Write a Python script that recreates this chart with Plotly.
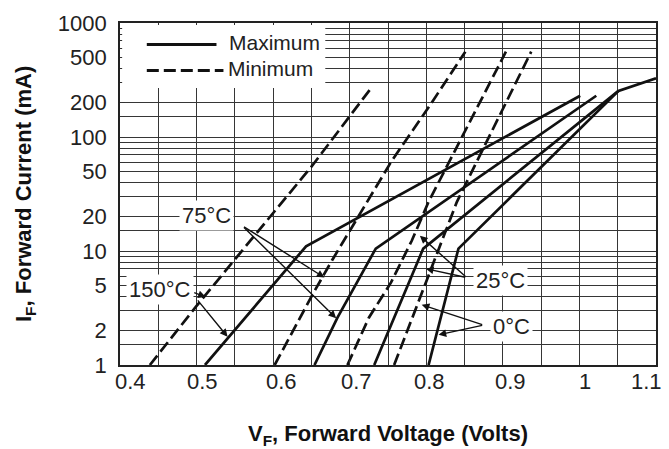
import numpy as np
import plotly.graph_objects as go

# Forward voltage (V) and forward current (mA) for each junction temperature
# Maximum curves
v_max_150 = [0.511, 0.643, 1.001]
i_max_150 = [1, 11, 230]
v_max_75 = [0.654, 0.684, 0.734, 1.022]
i_max_75 = [1, 2.6, 10.5, 230]
v_max_25 = [0.732, 0.796, 1.051]
i_max_25 = [1, 10.5, 254]
v_max_0 = [0.803, 0.842, 1.051, 1.1]
i_max_0 = [1, 10.5, 254, 327]

# Minimum curves
v_min_150 = [0.439, 0.5, 0.651, 0.728]
i_min_150 = [1, 3.3, 56, 269]
v_min_75 = [0.602, 0.621, 0.651, 0.677, 0.725, 0.755, 0.803, 0.851]
i_min_75 = [1, 1.73, 4.1, 8.3, 29, 62, 182, 560]
v_min_25 = [0.697, 0.725, 0.754, 0.781, 0.803, 0.904]
i_min_25 = [1, 2.6, 5.3, 12.3, 27, 560]
v_min_0 = [0.758, 0.84, 0.937]
i_min_0 = [1, 27, 560]

# Axis ticks
x_tick_values = [0.4, 0.5, 0.6, 0.7, 0.8, 0.9, 1.0, 1.1]
x_tick_text = ["0.4", "0.5", "0.6", "0.7", "0.8", "0.9", "1", "1.1"]
y_tick_values = [1, 2, 5, 10, 20, 50, 100, 200, 500, 1000]
y_tick_text = ["1", "2", "5", "10", "20", "50", "100", "200", "500", "1000"]
y_minor_values = [m * d for d in (1, 10, 100) for m in (1.5, 3, 4, 6, 7, 8, 9)]

FONT = "Liberation Sans, Arial, sans-serif"
INK = "#111111"
GRID = "#363636"
DASH = "12px,5px"

fig = go.Figure()

curves = [
    (v_max_150, i_max_150, "solid"), (v_max_75, i_max_75, "solid"),
    (v_max_25, i_max_25, "solid"), (v_max_0, i_max_0, "solid"),
    (v_min_150, i_min_150, DASH), (v_min_75, i_min_75, DASH),
    (v_min_25, i_min_25, DASH), (v_min_0, i_min_0, DASH),
]
for v, i, dash in curves:
    fig.add_trace(go.Scatter(
        x=v, y=i, mode="lines", showlegend=False, hoverinfo="skip",
        line=dict(color=INK, width=2.7, dash=dash),
    ))

axis_common = dict(
    showline=True, linecolor="#222222", linewidth=1.6, mirror="ticks",
    ticks="inside", ticklen=5, tickcolor="#333333", tickwidth=1.2,
    showgrid=True, gridcolor=GRID, gridwidth=1.4, zeroline=False,
    tickfont=dict(family=FONT, size=22, color="#222222"),
)

fig.update_xaxes(
    range=[0.4, 1.1], tickmode="linear", tick0=0.4, dtick=0.05,
    showticklabels=False, **axis_common,
)
fig.update_yaxes(
    type="log", range=[0, 3], tickmode="array",
    tickvals=y_tick_values, ticktext=y_tick_text, ticklabelstandoff=7,
    minor=dict(tickvals=y_minor_values, showgrid=True, gridcolor=GRID,
               gridwidth=1.4, ticks="inside", ticklen=5, tickcolor="#333333"),
    **axis_common,
)

annotations = []

# x tick labels, set slightly off their grid lines
x_label_nudge = [10, 6, 8, 7, 3, 8, 6, -10]
for val, txt, dx in zip(x_tick_values, x_tick_text, x_label_nudge):
    annotations.append(dict(
        x=val, y=0, xref="x", yref="paper", text=txt, showarrow=False,
        xanchor="center", yanchor="top", xshift=dx, yshift=-2,
        font=dict(family=FONT, size=22, color="#222222"),
    ))

# axis titles
annotations.append(dict(
    x=0.5, y=0, xref="paper", yref="paper", yshift=-70,
    text="<b>V<sub>F</sub>, Forward Voltage (Volts)</b>", showarrow=False,
    xanchor="center", yanchor="middle",
    font=dict(family=FONT, size=22, color="#111111"),
))
annotations.append(dict(
    x=0, y=0.5, xref="paper", yref="paper", xshift=-95,
    text="<b>I<sub>F</sub>, Forward Current (mA)</b>", showarrow=False,
    textangle=-90, xanchor="center", yanchor="middle",
    font=dict(family=FONT, size=22, color="#111111"),
))

# temperature callouts: label position, then arrow tails and tips (V, mA)
callouts = [
    ("150°C", (0.452, 4.62), [((0.495, 4.36), (0.512, 3.95)),
                              ((0.500, 3.8), (0.5405, 1.77))]),
    ("75°C", (0.513, 20.5), [((0.560, 16.6), (0.667, 5.85)),
                             ((0.560, 16.6), (0.6823, 2.57))]),
    ("25°C", (0.897, 5.52), [((0.8528, 5.85), (0.7916, 13.6)),
                             ((0.8528, 5.85), (0.7994, 7.0))]),
    ("0°C", (0.911, 2.19), [((0.875, 2.24), (0.794, 3.38)),
                            ((0.875, 2.24), (0.816, 1.84))]),
]
for text, (lx, ly), arrows in callouts:
    for (tx, ty), (hx, hy) in arrows:
        annotations.append(dict(
            x=hx, y=np.log10(hy), ax=tx, ay=np.log10(ty),
            xref="x", yref="y", axref="x", ayref="y", text="",
            showarrow=True, arrowhead=2, arrowsize=1.1, arrowwidth=1.4,
            arrowcolor=INK, standoff=0, startstandoff=0,
        ))
    annotations.append(dict(
        x=lx, y=np.log10(ly), xref="x", yref="y", text=text,
        showarrow=False, bgcolor="white", borderpad=2,
        font=dict(family=FONT, size=22, color="#222222"),
    ))

# legend entries
annotations.append(dict(
    x=0.199, y=0.943, xref="paper", yref="paper", text="Maximum",
    showarrow=False, xanchor="left", yanchor="middle",
    font=dict(family=FONT, size=21, color="#222222"),
))
annotations.append(dict(
    x=0.197, y=0.866, xref="paper", yref="paper", text="Minimum",
    showarrow=False, xanchor="left", yanchor="middle",
    font=dict(family=FONT, size=21, color="#222222"),
))

shapes = [
    # white panel behind the legend
    dict(type="rect", xref="paper", yref="paper", x0=0.004, x1=0.383,
         y0=0.81, y1=0.994, fillcolor="white", line=dict(width=0),
         layer="above"),
    dict(type="line", xref="paper", yref="paper", x0=0.050, x1=0.180,
         y0=0.9375, y1=0.9375, line=dict(color=INK, width=3)),
    dict(type="line", xref="paper", yref="paper", x0=0.050, x1=0.193,
         y0=0.861, y1=0.861, line=dict(color=INK, width=3, dash=DASH)),
]

fig.update_layout(
    width=669, height=449,
    margin=dict(l=120, r=11, t=13, b=84),
    paper_bgcolor="white", plot_bgcolor="white",
    annotations=annotations, shapes=shapes,
    showlegend=False,
)

fig.write_html("out.html")
